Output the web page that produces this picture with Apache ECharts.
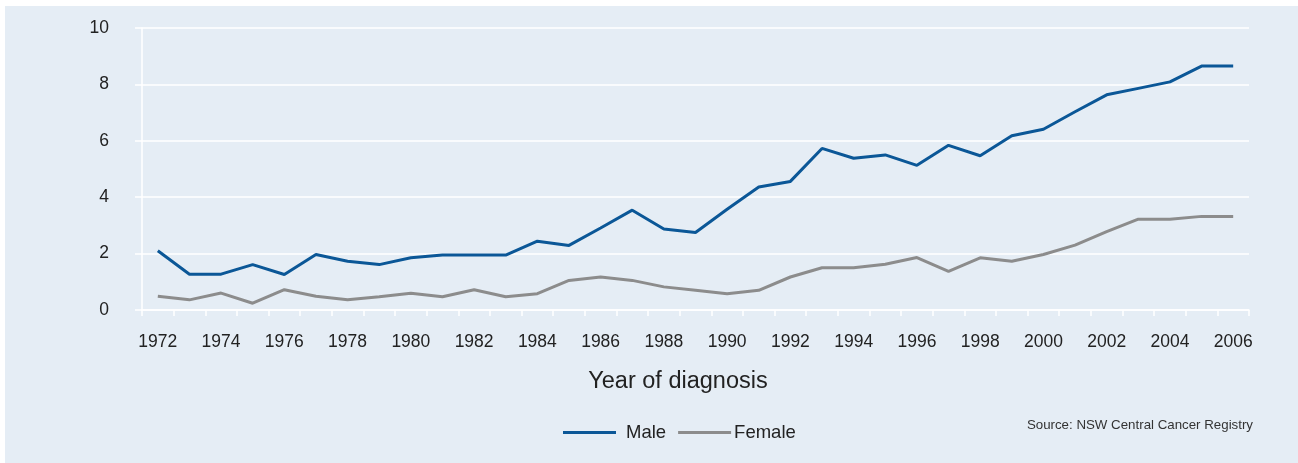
<!DOCTYPE html>
<html>
<head>
<meta charset="utf-8">
<script src="https://cdn.jsdelivr.net/npm/echarts@6/dist/echarts.min.js"></script>
<style>
html,body{margin:0;padding:0;background:#ffffff;}
#bg{position:absolute;left:5px;top:6px;right:0;bottom:0;background:#e5edf5;}
#chart{position:absolute;left:0;top:0;width:1298px;height:463px;}
</style>
</head>
<body>
<div id="bg"></div>
<div id="chart"></div>
<script>
const years = ['1972','1973','1974','1975','1976','1977','1978','1979','1980','1981','1982','1983','1984','1985','1986','1987','1988','1989','1990','1991','1992','1993','1994','1995','1996','1997','1998','1999','2000','2001','2002','2003','2004','2005','2006'];
const male = [2.10,1.27,1.27,1.61,1.26,1.97,1.73,1.61,1.85,1.95,1.95,1.95,2.44,2.29,2.91,3.54,2.87,2.75,3.57,4.36,4.56,5.73,5.38,5.50,5.13,5.84,5.47,6.18,6.41,7.03,7.63,7.86,8.09,8.65,8.65];
const female = [0.49,0.36,0.60,0.24,0.72,0.49,0.36,0.47,0.59,0.47,0.72,0.47,0.58,1.05,1.17,1.05,0.82,0.70,0.58,0.70,1.17,1.50,1.50,1.62,1.86,1.37,1.85,1.73,1.97,2.30,2.78,3.22,3.22,3.32,3.32];
const yTicks = [0, 2, 4, 6, 8, 10];
const seriesNames = ['Male', 'Female'];
const xTitle = 'Year of diagnosis';
const sourceText = 'Source: NSW Central Cancer Registry';

const FONT = '"Liberation Sans", Arial, Helvetica, sans-serif';
const chart = echarts.init(document.getElementById('chart'), null, {renderer: 'canvas'});
chart.setOption({
  animation: false,
  backgroundColor: 'transparent',
  textStyle: {fontFamily: FONT},
  grid: {left: 142, right: 49, top: 28, bottom: 153, containLabel: false},
  legend: {
    left: 558, top: 418,
    itemWidth: 53, itemHeight: 3, itemGap: 12,
    icon: 'rect',
    textStyle: {fontFamily: FONT, fontSize: 18.5, color: '#222'},
    data: [
      {name: seriesNames[0], textStyle: {padding: [0, 0, 0, 5]}},
      {name: seriesNames[1], textStyle: {padding: [0, 0, 0, -2]}}
    ]
  },
  xAxis: {
    type: 'category',
    data: years,
    boundaryGap: true,
    axisLine: {show: true, lineStyle: {color: '#ffffff', width: 1.5}},
    axisTick: {show: true, length: 6, inside: false, interval: 0, lineStyle: {color: '#ffffff', width: 1.5}},
    axisLabel: {interval: 1, margin: 23, fontSize: 17.5, color: '#222', fontFamily: FONT},
    splitLine: {show: false}
  },
  yAxis: {
    type: 'value',
    min: yTicks[0], max: yTicks[yTicks.length - 1], interval: 2,
    axisLine: {show: true, lineStyle: {color: '#ffffff', width: 1.5}},
    axisTick: {show: true, length: 7, lineStyle: {color: '#ffffff', width: 1.5}},
    axisLabel: {margin: 33, fontSize: 17.5, color: '#222', fontFamily: FONT},
    splitLine: {show: true, lineStyle: {color: '#ffffff', width: 1.5}}
  },
  graphic: [
    {type: 'text', x: 678, y: 382, style: {text: xTitle, fontSize: 23.5, fill: '#222', fontFamily: FONT, align: 'center', verticalAlign: 'middle'}},
    {type: 'text', x: 1253, y: 425, style: {text: sourceText, fontSize: 13.3, fill: '#333', fontFamily: FONT, align: 'right', verticalAlign: 'middle'}}
  ],
  series: [
    {name: seriesNames[0], type: 'line', data: male, symbol: 'none', lineStyle: {color: '#0b5797', width: 3}, itemStyle: {color: '#0b5797'}},
    {name: seriesNames[1], type: 'line', data: female, symbol: 'none', lineStyle: {color: '#8c8c8c', width: 3}, itemStyle: {color: '#8c8c8c'}}
  ]
});
</script>
</body>
</html>
